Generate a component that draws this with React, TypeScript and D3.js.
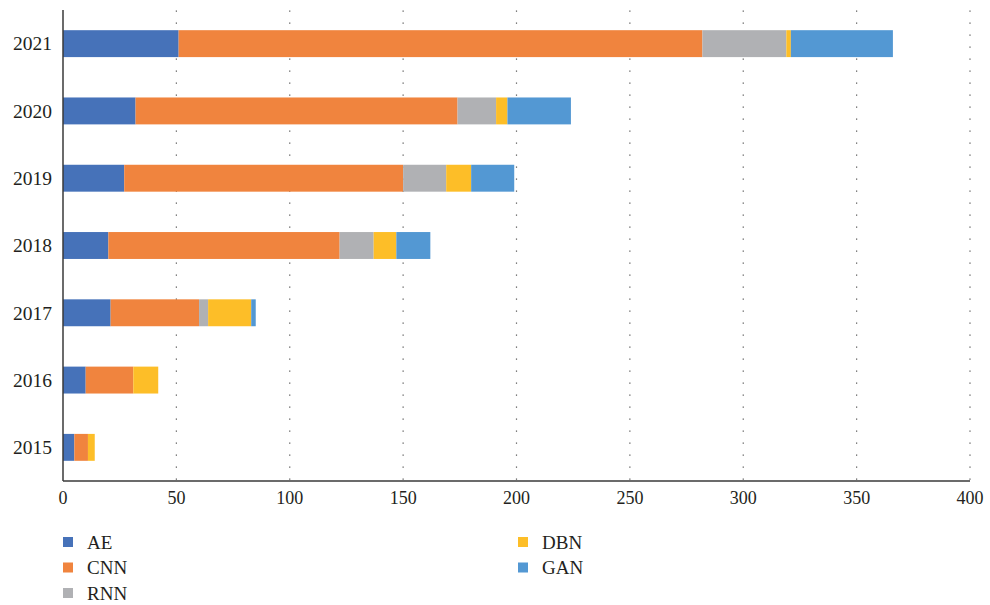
import React from "react";
import * as d3 from "d3";

const years = ["2021", "2020", "2019", "2018", "2017", "2016", "2015"];
const seriesNames = ["AE", "CNN", "RNN", "DBN", "GAN"];
const AE = [51, 32, 27, 20, 21, 10, 5];
const CNN = [231, 142, 123, 102, 39, 21, 6];
const RNN = [37, 17, 19, 15, 4, 0, 0];
const DBN = [2, 5, 11, 10, 19, 11, 3];
const GAN = [45, 28, 19, 15, 2, 0, 0];
const xTicks = [0, 50, 100, 150, 200, 250, 300, 350, 400];
const colors = ["#4672B9", "#F0843E", "#B0B1B4", "#FDBE28", "#5398D3"];

const W = 990;
const H = 605;
const left = 63;
const right = 970;
const top = 10;
const bottom = 481;
const FONT = "Liberation Serif, Tinos, Times New Roman, DejaVu Serif, serif";
const textStyle = { fontFamily: FONT };

export default function App() {
  const x = d3.scaleLinear().domain([0, 400]).range([left, right]);
  const y = d3.scaleBand().domain(years).range([top, bottom]).paddingInner(0.6).paddingOuter(0.3);
  const table = years.map((yr, i) => ({ year: yr, AE: AE[i], CNN: CNN[i], RNN: RNN[i], DBN: DBN[i], GAN: GAN[i] }));
  const stacked = d3.stack<any>().keys(seriesNames)(table);

  const legendItems = [
    { name: "AE", col: 0, row: 0 },
    { name: "CNN", col: 0, row: 1 },
    { name: "RNN", col: 0, row: 2 },
    { name: "DBN", col: 1, row: 0 },
    { name: "GAN", col: 1, row: 1 },
  ];

  return (
    <svg width={W} height={H} style={{ position: "absolute", left: 0, top: 0, background: "#fff" }}>
      {xTicks.slice(1).map((t) => (
        <line key={t} x1={x(t)} x2={x(t)} y1={top} y2={bottom} stroke="#555" strokeWidth={1.2} strokeDasharray="1.2,10.8" strokeDashoffset={-0.5} />
      ))}
      {stacked.map((s, si) => (
        <g key={s.key} fill={colors[si]}>
          {s.map((d, i) => (
            d[1] - d[0] > 0 ? (
              <rect key={i} x={x(d[0])} y={y(years[i])!} width={x(d[1]) - x(d[0])} height={y.bandwidth()} />
            ) : null
          ))}
        </g>
      ))}
      <line x1={left} x2={left} y1={top} y2={bottom} stroke="#3a3a3a" strokeWidth={1.5} />
      <line x1={left} x2={right} y1={bottom} y2={bottom} stroke="#3a3a3a" strokeWidth={1.5} />
      {years.map((yr) => (
        <text key={yr} x={52} y={y(yr)! + y.bandwidth() / 2} dy="0.35em" textAnchor="end" fontSize={19.5} fill="#231F20" style={textStyle}>{yr}</text>
      ))}
      {xTicks.map((t) => (
        <text key={t} x={x(t)} y={504} textAnchor="middle" fontSize={18} fill="#231F20" style={textStyle}>{t}</text>
      ))}
      {legendItems.map((it) => {
        const lx = it.col === 0 ? 63 : 518;
        const ly = 542 + it.row * 25.5;
        const ci = seriesNames.indexOf(it.name);
        return (
          <g key={it.name}>
            <rect x={lx} y={ly - 5} width={10} height={10} fill={colors[ci]} />
            <text x={lx + 24} y={ly} dy="0.35em" fontSize={19} fill="#231F20" style={textStyle}>{it.name}</text>
          </g>
        );
      })}
    </svg>
  );
}
